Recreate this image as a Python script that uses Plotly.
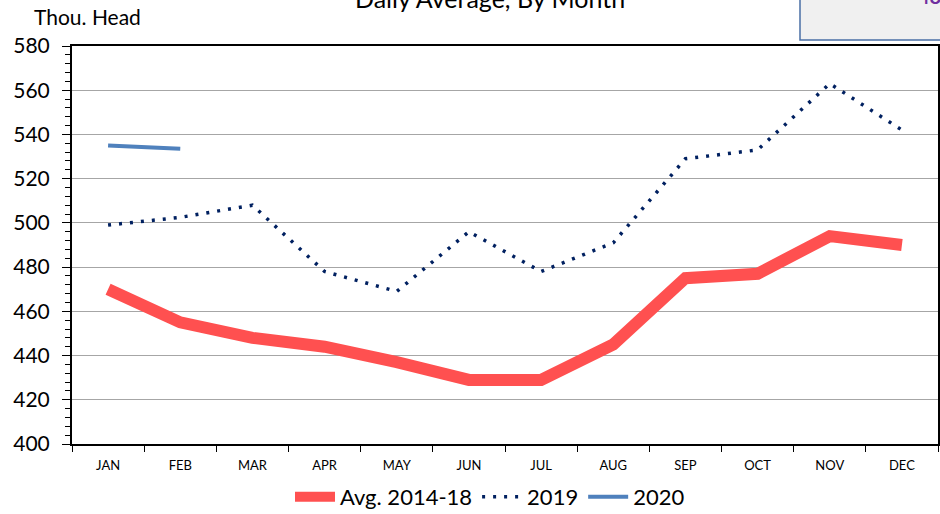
import plotly.graph_objects as go

months = ['JAN', 'FEB', 'MAR', 'APR', 'MAY', 'JUN', 'JUL', 'AUG', 'SEP', 'OCT', 'NOV', 'DEC']
avg_2014_18 = [470, 455, 448, 444, 437, 429, 429, 445, 475, 477, 494, 490]
y2019 = [499, 502.5, 508, 478, 469, 496, 478, 491, 529, 533, 563, 542]
y2020 = [535, 533.5]

fig = go.Figure()

fig.add_trace(go.Scatter(x=months, y=avg_2014_18, name='Avg. 2014-18', mode='lines',
                         line=dict(color='#ff5050', width=12)))
fig.add_trace(go.Scatter(x=months, y=y2019, name='2019', mode='lines',
                         line=dict(color='#002060', width=3.5, dash='3px,8px')))
fig.add_trace(go.Scatter(x=months[:len(y2020)], y=y2020, name='2020', mode='lines',
                         line=dict(color='#4f81bd', width=4)))

# pixel -> paper helpers (plot area 72..938 x 46..444)
def px(p):
    return (p - 72) / 866

def py(p):
    return (444 - p) / 398

fig.update_layout(
    width=940, height=514,
    margin=dict(l=72, r=2, t=46, b=70),
    paper_bgcolor='white', plot_bgcolor='white',
    font=dict(family='Lato, Open Sans, sans-serif', color='black'),
    showlegend=True,
    legend=dict(orientation='h', x=px(490), xanchor='center',
                yref='container', y=1 - 497 / 514, yanchor='middle',
                font=dict(size=22), itemwidth=40, tracegroupgap=0),
    xaxis=dict(type='category', showgrid=False, tickson='boundaries', ticks='outside',
               ticklen=6, tickcolor='black', tickfont=dict(size=13), ticklabelstandoff=8,
               showline=True, linecolor='black', linewidth=2, mirror=True,
               range=[-0.5, 11.5], automargin=False),
    yaxis=dict(range=[400, 580], dtick=20, ticks='outside', ticklen=8, tickcolor='black',
               tickfont=dict(size=21), ticklabelstandoff=8, automargin=False,
               showgrid=True, gridcolor='#a6a6a6', gridwidth=1,
               showline=True, linecolor='black', linewidth=2, mirror=True, zeroline=False,
               minor=dict(dtick=4, ticks='outside', ticklen=5, tickcolor='black', showgrid=False)),
    shapes=[dict(type='rect', xref='paper', yref='paper', x0=px(800), x1=px(960),
                 y0=py(40), y1=py(-20), fillcolor='#f0f0f0',
                 line=dict(color='#4a6fa5', width=1.5), layer='above')],
    annotations=[
        dict(text='Daily Average, By Month', xref='paper', yref='paper', x=px(490), y=py(-2),
             xanchor='center', yanchor='middle', showarrow=False, font=dict(size=25)),
        dict(text='Thou. Head', xref='paper', yref='paper', x=px(32), y=py(17),
             xanchor='left', yanchor='middle', showarrow=False, font=dict(size=21)),
        dict(text='<b>48</b>', xref='paper', yref='paper', x=px(916), y=py(-4),
             xanchor='left', yanchor='middle', showarrow=False,
             font=dict(size=20, color='#7030a0')),
    ],
)

fig.write_html('out.html', config={'displayModeBar': False},
               post_script="document.body.style.margin='0';")
